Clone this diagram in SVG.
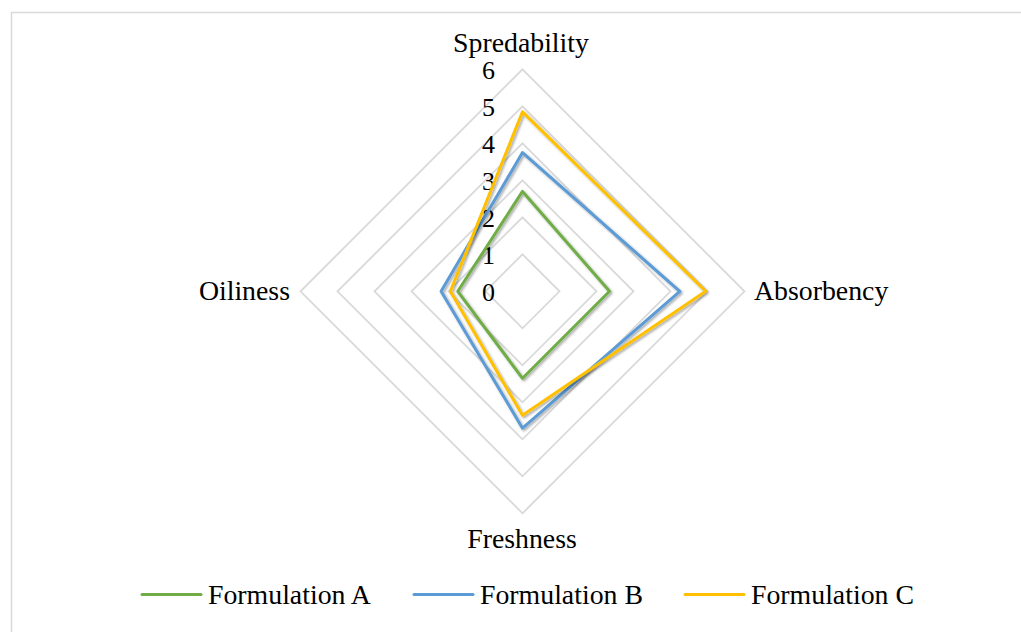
<svg xmlns="http://www.w3.org/2000/svg" width="1021" height="632" viewBox="0 0 1021 632">
<style>
.grid{fill:none;stroke:#d9d9d9;stroke-width:1.8}
.s{fill:none;stroke-width:3;stroke-linejoin:round;stroke-linecap:round}
.t{font-family:"Liberation Serif","Times New Roman",serif;fill:#000}
.lab{font-size:27.8px}
.tick{font-size:26px;text-anchor:end}
</style>
<defs>
<filter id="sh" x="-10%" y="-10%" width="120%" height="120%">
<feDropShadow dx="1.5" dy="1.5" stdDeviation="1.2" flood-color="#000" flood-opacity="0.35"/>
</filter>
</defs>
<rect x="0" y="0" width="1021" height="632" fill="#fff"/>
<rect x="11.5" y="12.5" width="1030" height="640" fill="none" stroke="#d9d9d9" stroke-width="1.5"/>
<g id="grid">
<polygon class="grid" points="522.5,254.3 559.5,291.3 522.5,328.3 485.5,291.3"/>
<polygon class="grid" points="522.5,217.3 596.5,291.3 522.5,365.3 448.5,291.3"/>
<polygon class="grid" points="522.5,180.3 633.5,291.3 522.5,402.3 411.5,291.3"/>
<polygon class="grid" points="522.5,143.3 670.5,291.3 522.5,439.3 374.5,291.3"/>
<polygon class="grid" points="522.5,106.3 707.5,291.3 522.5,476.3 337.5,291.3"/>
<polygon class="grid" points="522.5,69.3 744.5,291.3 522.5,513.3 300.5,291.3"/>
</g>
<g id="ticks" class="t tick">
<text x="495" y="79">6</text>
<text x="495" y="116">5</text>
<text x="495" y="153">4</text>
<text x="495" y="190">3</text>
<text x="495" y="227">2</text>
<text x="495" y="264">1</text>
<text x="495" y="301">0</text>
</g>
<g id="series">
<polygon id="seriesA" class="s" filter="url(#sh)" stroke="#70ad47" points="522.5,191.4 609.5,291.3 522.5,378.3 457.8,291.3"/>
<polygon id="seriesB" class="s" filter="url(#sh)" stroke="#5b9bd5" points="522.5,152.6 679.8,291.3 522.5,428.2 441.1,291.3"/>
<polygon id="seriesC" class="s" filter="url(#sh)" stroke="#ffc000" points="522.5,111.9 705.7,291.3 522.5,415.3 450.4,291.3"/>
</g>
<g id="axis-labels" class="t lab">
<text x="521" y="52" text-anchor="middle">Spredability</text>
<text x="754" y="300">Absorbency</text>
<text x="522" y="548" text-anchor="middle">Freshness</text>
<text x="290" y="300" text-anchor="end">Oiliness</text>
</g>
<g id="legend" class="t lab">
<line x1="142" y1="594.5" x2="201" y2="594.5" stroke="#70ad47" stroke-width="3" stroke-linecap="round"/>
<text x="208" y="604">Formulation A</text>
<line x1="414" y1="594.5" x2="473" y2="594.5" stroke="#5b9bd5" stroke-width="3" stroke-linecap="round"/>
<text x="480" y="604">Formulation B</text>
<line x1="685" y1="594.5" x2="744" y2="594.5" stroke="#ffc000" stroke-width="3" stroke-linecap="round"/>
<text x="751" y="604">Formulation C</text>
</g>
</svg>
